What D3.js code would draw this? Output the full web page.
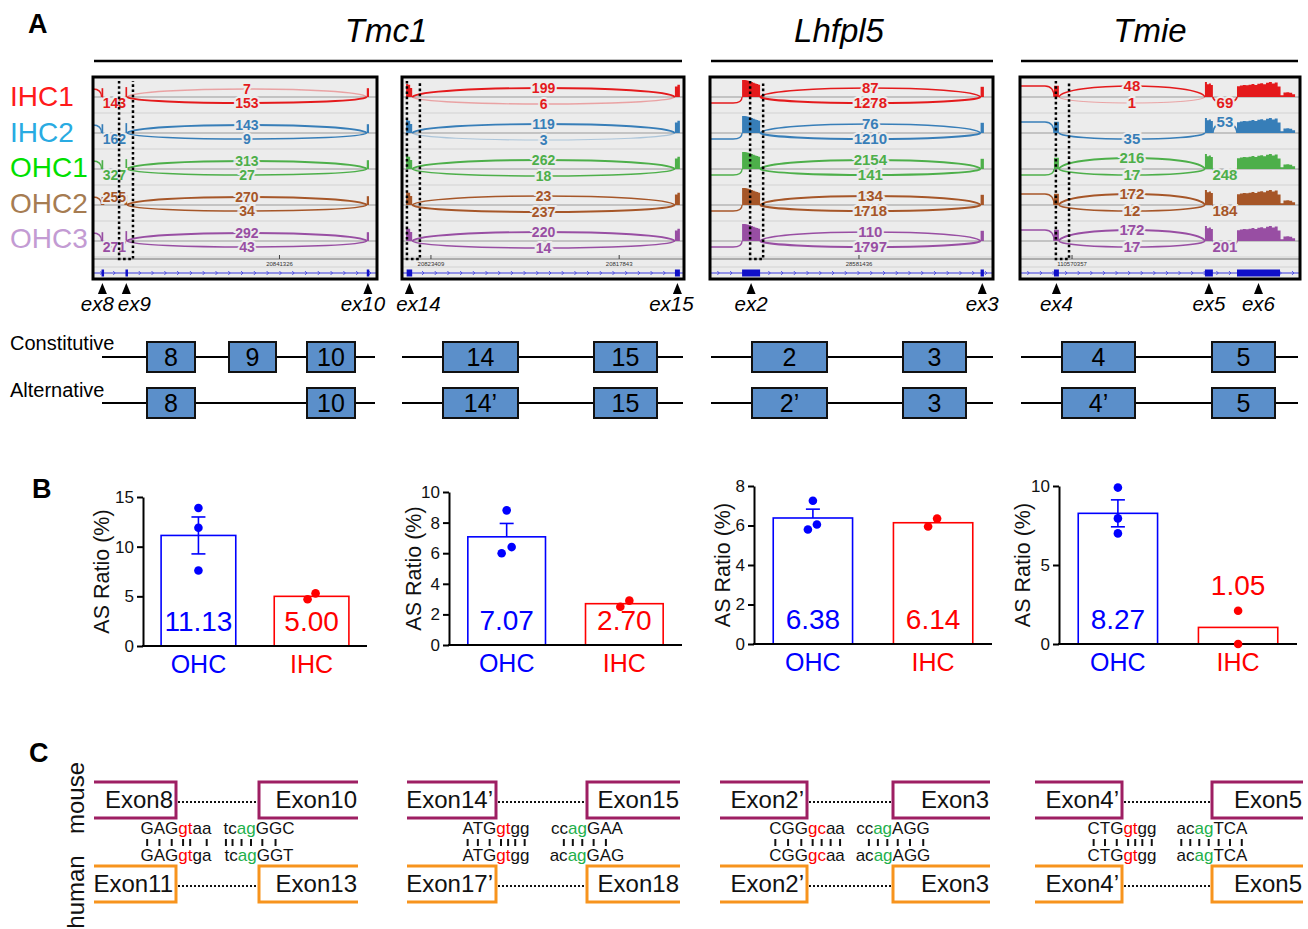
<!DOCTYPE html>
<html>
<head>
<meta charset="utf-8">
<script src="https://cdn.jsdelivr.net/npm/d3@7"></script>
<style>
  body { margin: 0; background: #fff; }
  svg { display: block; }
</style>
</head>
<body>
<svg id="fig" width="1308" height="929"></svg>
<script>
// ---------------- data: panel A (sashimi) ----------------
const samples = ["IHC1", "IHC2", "OHC1", "OHC2", "OHC3"];
const genes = ["Tmc1", "Lhfpl5", "Tmie"];

// junction read counts, one per sample
const tmc1aUpper = [7, 143, 313, 270, 292];
const tmc1aLower = [153, 9, 27, 34, 43];
const tmc1aEx8Ex9 = [143, 162, 327, 255, 271];
const tmc1aEx8Ex9Side = [1, 1, 1, -1, 1];
const tmc1bUpper = [199, 119, 262, 23, 220];
const tmc1bLower = [6, 3, 18, 237, 14];
const lhfpl5Upper = [87, 76, 2154, 134, 110];
const lhfpl5Lower = [1278, 1210, 141, 1718, 1797];
const tmieUpper = [48, null, 216, 172, 172];
const tmieLower = [1, 35, 17, 12, 17];
const tmieEx5Ex6 = [69, 53, 248, 184, 201];
const tmieEx5Ex6Side = [1, -1, 1, 1, 1];
const tmieEdgeSide = [-1, -1, 1, -1, -1];

// exons in each window: [name, start, end], window spans 0-100
const tmc1aExons = [["ex8", 2.0, 2.6], ["ex9", 10.6, 11.2], ["ex10", 97.4, 98.2]];
const tmc1bExons = [["ex14", 0.6, 2.6], ["ex15", 97.8, 99.6]];
const lhfpl5Exons = [["ex2", 10.5, 17.0], ["ex3", 96.6, 97.8]];
const tmieExons = [["ex4", 11.3, 13.1], ["ex5", 66.4, 69.3], ["ex6", 78.1, 93.8]];

// read coverage (relative depth) over exons
const tmc1aCov = [{ from: 2.0, to: 2.6, depth: [0.8] }, { from: 10.6, to: 11.2, depth: [0.9] }, { from: 97.4, to: 98.2, depth: [0.8] }];
const tmc1bCov = [{ from: 0.4, to: 2.6, depth: [1, 0.95, 0.7] }, { from: 97.8, to: 99.6, depth: [0.8, 0.95] }];
const lhfpl5Cov = [{ from: 10.5, to: 17.0, depth: [1, 1, 0.98, 0.95, 0.92, 0.88, 0.84, 0.8, 0.76, 0.72] }, { from: 96.6, to: 97.8, depth: [0.6] }];
const tmieCov = [
  { from: 11.3, to: 13.1, depth: [0.75] },
  { from: 66.4, to: 69.3, depth: [1, 0.85, 0.9, 0.8] },
  { from: 78.1, to: 99.3, depth: [0.72, 0.76, 0.8, 0.78, 0.82, 0.86, 0.8, 0.88, 0.92, 0.85, 0.95, 1.0, 0.9, 0.96, 0.7, 0.12, 0.3, 0.32, 0.28, 0.18] }
];

// genomic coordinate labels
const tmc1aCoords = [[66, "20841326"]];
const tmc1bCoords = [[9.4, "20823409"], [77.6, "20817843"]];
const lhfpl5Coords = [[52.7, "28581436"]];
const tmieCoords = [[17.9, "110570357"]];

// exon schematics
const schemeConst = [["8", "9", "10"], ["14", "15"], ["2", "3"], ["4", "5"]];
const schemeAlt = [["8", "10"], ["14\u2019", "15"], ["2\u2019", "3"], ["4\u2019", "5"]];

// ---------------- data: panel B ----------------
const bGroups = ["OHC", "IHC"];
const bOhcMean = [11.13, 7.07, 6.38, 8.27];
const bIhcMean = [5.00, 2.70, 6.14, 1.05];
const bOhcDots = [[13.9, 11.9, 7.6], [8.8, 6.4, 6.0], [7.25, 6.05, 5.8], [9.9, 7.95, 7.0]];
const bIhcDots = [[4.7, 5.3], [2.5, 2.9], [5.95, 6.35], [2.1, 0.0]];
const bYMax = [15, 10, 8, 10];
const bYStep = [5, 2, 2, 5];

// ---------------- data: panel C ----------------
const mouseExonL = ["Exon8", "Exon14\u2019", "Exon2\u2019", "Exon4\u2019"];
const mouseExonR = ["Exon10", "Exon15", "Exon3", "Exon5"];
const humanExonL = ["Exon11", "Exon17\u2019", "Exon2\u2019", "Exon4\u2019"];
const humanExonR = ["Exon13", "Exon18", "Exon3", "Exon5"];
const mouseDonor = ["GAGgtaa", "ATGgtgg", "CGGgcaa", "CTGgtgg"];
const humanDonor = ["GAGgtga", "ATGgtgg", "CGGgcaa", "CTGgtgg"];
const mouseAcceptor = ["tcagGGC", "ccagGAA", "ccagAGG", "acagTCA"];
const humanAcceptor = ["tcagGGT", "acagGAG", "acagAGG", "acagTCA"];

// ---------------- styles / layout ----------------
const FONT = "'Liberation Sans', Arial, Helvetica, sans-serif";
const labelColors = ["#ff1a1a", "#29abe2", "#00e000", "#a67c52", "#c39bd3"];
const trackColors = ["#e41a1c", "#377eb8", "#4daf4a", "#a65628", "#984ea3"];
const BG = "#ececec";
const BLUE = "#0000ff", RED = "#ff0000";

const svg = d3.select("#fig").attr("font-family", FONT);
svg.append("rect").attr("width", 1308).attr("height", 929).attr("fill", "#fff");

function letter(t, x, y) {
  svg.append("text").attr("x", x).attr("y", y).attr("font-size", 27)
    .attr("font-weight", "bold").text(t);
}
letter("A", 28, 33);
letter("B", 32, 498);
letter("C", 29, 762);

// gene titles
const geneTitleX = [386, 839, 1150];
const geneLineX = [[94, 682], [711, 993], [1021, 1298]];
genes.forEach((gname, i) => {
  svg.append("text").attr("x", geneTitleX[i]).attr("y", 42)
    .attr("text-anchor", "middle").attr("font-size", 33).attr("font-style", "italic")
    .text(gname);
  svg.append("line").attr("x1", geneLineX[i][0]).attr("x2", geneLineX[i][1])
    .attr("y1", 61).attr("y2", 61).attr("stroke", "#000").attr("stroke-width", 2.5);
});

// sample names
samples.forEach((s, i) => {
  svg.append("text").attr("x", 10).attr("y", 106 + 35.5 * i)
    .attr("font-size", 28).attr("fill", labelColors[i]).text(s);
});

// ---------------- sashimi windows ----------------
const windows = [
  { exons: tmc1aExons, cov: tmc1aCov, coords: tmc1aCoords,
    junctions: [
      { a: "L", b: 0, side: -1 },
      { a: 1, b: 2, counts: tmc1aUpper, side: -1 },
      { a: 1, b: 2, counts: tmc1aLower, side: 1 },
      { a: 0, b: 1, counts: tmc1aEx8Ex9, side: tmc1aEx8Ex9Side }
    ] },
  { exons: tmc1bExons, cov: tmc1bCov, coords: tmc1bCoords,
    junctions: [
      { a: 0, b: 1, counts: tmc1bUpper, side: -1 },
      { a: 0, b: 1, counts: tmc1bLower, side: 1 }
    ] },
  { exons: lhfpl5Exons, cov: lhfpl5Cov, coords: lhfpl5Coords,
    junctions: [
      { a: "L", b: 0, side: 1 },
      { a: 0, b: 1, counts: lhfpl5Upper, side: -1 },
      { a: 0, b: 1, counts: lhfpl5Lower, side: 1 }
    ] },
  { exons: tmieExons, cov: tmieCov, coords: tmieCoords,
    junctions: [
      { a: "L", b: 0, side: tmieEdgeSide },
      { a: 0, b: 1, counts: tmieUpper, side: -1 },
      { a: 0, b: 1, counts: tmieLower, side: 1 },
      { a: 1, b: 2, counts: tmieEx5Ex6, side: tmieEx5Ex6Side }
    ] }
];

const winBox = [[93, 377], [402, 684], [710, 993], [1020, 1300]];
const winHighlight = [[8.3, 13.3], [0.7, 5.4], [13.4, 18.1], [12.0, 16.8]];
const winArrowDx = [[-5, 8, -5], [9, -6], [0, 0], [0, 0, 0]];
const winFont = [14, 14, 15, 15];
const winUp = [8, 9, 9, 11];
const winDown = [6, 7, 6, 6];
const winCovH = [11, 13, 17, 15];
const boxTop = 77, boxBottom = 279;
const trackBase = i => 97 + 36 * i;
const widthScale = d3.scaleLog().domain([1, 2000]).range([1, 2.2]).clamp(true);

windows.forEach((w, wi) => {
  const [bx0, bx1] = winBox[wi];
  const x = d3.scaleLinear().domain([0, 100]).range([bx0 + 3, bx1 - 3]);
  const g = svg.append("g");
  const clipId = "clip" + wi;
  g.append("clipPath").attr("id", clipId).append("rect")
    .attr("x", bx0).attr("y", boxTop).attr("width", bx1 - bx0).attr("height", boxBottom - boxTop);

  g.append("rect").attr("x", bx0).attr("y", boxTop).attr("width", bx1 - bx0)
    .attr("height", boxBottom - boxTop).attr("fill", BG);

  const inner = g.append("g").attr("clip-path", `url(#${clipId})`);

  // track guide lines
  samples.forEach((s, i) => {
    const yb = trackBase(i);
    inner.append("line").attr("x1", bx0).attr("x2", bx1).attr("y1", yb).attr("y2", yb)
      .attr("stroke", "#9a9a9a").attr("stroke-width", 1);
    inner.append("line").attr("x1", bx0).attr("x2", bx1).attr("y1", yb + 16).attr("y2", yb + 16)
      .attr("stroke", "#d2d2d2").attr("stroke-width", 1);
  });
  inner.append("line").attr("x1", bx0).attr("x2", bx1).attr("y1", 259).attr("y2", 259)
    .attr("stroke", "#6e6e6e").attr("stroke-width", 1.2);
  inner.append("line").attr("x1", bx0).attr("x2", bx1).attr("y1", 267).attr("y2", 267)
    .attr("stroke", "#d2d2d2").attr("stroke-width", 1);

  // coordinates
  w.coords.forEach(c => {
    inner.append("line").attr("x1", x(c[0])).attr("x2", x(c[0])).attr("y1", 255).attr("y2", 259)
      .attr("stroke", "#444");
    inner.append("text").attr("x", x(c[0])).attr("y", 265.5).attr("text-anchor", "middle")
      .attr("font-size", 6).attr("fill", "#333").text(c[1]);
  });

  // gene model
  inner.append("line").attr("x1", bx0).attr("x2", bx1).attr("y1", 273).attr("y2", 273)
    .attr("stroke", "#3a3ae0").attr("stroke-width", 1);
  d3.range(2, 100, 4.6).forEach(p => {
    inner.append("path").attr("d", `M${x(p) - 1.2},${271} L${x(p) + 0.8},${273} L${x(p) - 1.2},${275}`)
      .attr("fill", "none").attr("stroke", "#3a3ae0").attr("stroke-width", 0.8);
  });
  w.exons.forEach(e => {
    inner.append("rect").attr("x", x(e[1])).attr("y", 269.5)
      .attr("width", Math.max(2.5, x(e[2]) - x(e[1]))).attr("height", 7).attr("fill", "#1010c8");
  });

  const fontSize = winFont[wi];
  samples.forEach((s, i) => {
    const yb = trackBase(i);
    const col = trackColors[i];

    // coverage
    w.cov.forEach(c => {
      const n = c.depth.length;
      const pts = c.depth.map((d, k) => [c.from + (c.to - c.from) * k / n, d]).concat([[c.to, c.depth[n - 1]]]);
      const area = d3.area().x(p => x(p[0])).y0(yb).y1(p => yb - p[1] * winCovH[wi]).curve(d3.curveStepAfter);
      inner.append("path").attr("d", area(pts)).attr("fill", col);
    });

    // junction arcs
    w.junctions.forEach(j => {
      const side = Array.isArray(j.side) ? j.side[i] : j.side;
      const h = side < 0 ? -winUp[wi] : winDown[wi];
      if (j.a === "L") {
        const xe = x(w.exons[j.b][1]);
        inner.append("path")
          .attr("d", `M${bx0},${yb + h} H${xe - 9} Q${xe},${yb + h} ${xe},${yb}`)
          .attr("fill", "none").attr("stroke", col).attr("stroke-width", 1.3);
        return;
      }
      const cnt = j.counts[i];
      if (cnt == null) return;
      const xa = x(w.exons[j.a][2]), xb = x(w.exons[j.b][1]);
      const span = xb - xa, k = h * 4 / 3;
      inner.append("path")
        .attr("d", `M${xa},${yb} C${xa + span * 0.04},${yb + k} ${xb - span * 0.04},${yb + k} ${xb},${yb}`)
        .attr("fill", "none").attr("stroke", col)
        .attr("stroke-opacity", cnt < 9 ? 0.35 : 1)
        .attr("stroke-width", widthScale(cnt));
      inner.append("text").attr("x", (xa + xb) / 2).attr("y", yb + h)
        .attr("dy", "0.36em").attr("text-anchor", "middle")
        .attr("font-size", fontSize).attr("font-weight", "bold").attr("fill", col)
        .attr("stroke", BG).attr("stroke-width", 4).attr("paint-order", "stroke")
        .text(cnt);
    });
  });

  // highlighted alternative region
  const [h0, h1] = winHighlight[wi];
  g.append("path").attr("d", `M${x(h0)},81 V259 H${x(h1)} V81`)
    .attr("fill", "none").attr("stroke", "#000").attr("stroke-width", 2.5)
    .attr("stroke-dasharray", "2.6,2.6");

  // frame
  g.append("rect").attr("x", bx0).attr("y", boxTop).attr("width", bx1 - bx0)
    .attr("height", boxBottom - boxTop).attr("fill", "none")
    .attr("stroke", "#000").attr("stroke-width", 3);

  // exon arrows
  w.exons.forEach((e, k) => {
    const cx = x((e[1] + e[2]) / 2);
    g.append("path").attr("d", `M${cx},283 L${cx + 4.5},294 L${cx - 4.5},294 Z`).attr("fill", "#000");
    g.append("text").attr("x", cx + winArrowDx[wi][k]).attr("y", 311)
      .attr("text-anchor", "middle").attr("font-size", 20.5).attr("font-style", "italic")
      .text(e[0]);
  });
});

// ---------------- exon schematics ----------------
const schemeLineX = [[102, 375], [402, 683], [711, 993], [1021, 1298]];
const schemeConstX = [[[147, 195], [229, 276], [307, 355]], [[443, 518], [594, 657]], [[752, 827], [903, 966]], [[1062, 1135], [1212, 1275]]];
const schemeAltX = [[[147, 195], [307, 355]], [[443, 518], [594, 657]], [[752, 827], [903, 966]], [[1062, 1135], [1212, 1275]]];
svg.append("text").attr("x", 10).attr("y", 350).attr("font-size", 20).text("Constitutive");
svg.append("text").attr("x", 10).attr("y", 397).attr("font-size", 20).text("Alternative");

function schemeRow(labels, xs, yc) {
  labels.forEach((lab, p) => {
    const [l0, l1] = schemeLineX[p];
    svg.append("line").attr("x1", l0).attr("x2", l1).attr("y1", yc).attr("y2", yc)
      .attr("stroke", "#000").attr("stroke-width", 2);
    lab.forEach((t, k) => {
      const [e0, e1] = xs[p][k];
      svg.append("rect").attr("x", e0).attr("y", yc - 15).attr("width", e1 - e0).attr("height", 30)
        .attr("fill", "#5b8fca").attr("stroke", "#111").attr("stroke-width", 2);
      svg.append("text").attr("x", (e0 + e1) / 2).attr("y", yc + 9).attr("text-anchor", "middle")
        .attr("font-size", 25).attr("fill", "#000").text(t);
    });
  });
}
schemeRow(schemeConst, schemeConstX, 357);
schemeRow(schemeAlt, schemeAltX, 403);

// ---------------- panel B bar charts ----------------
const bAxisX = [143, 449, 754, 1059];
const bAxisEnd = [367, 682, 992, 1297];
const bTop = [497, 492, 486, 486];
const bBottom = [646, 645, 644, 644];
const bLabelOff = [42, 36, 32, 37];
const bOhcJitter = [[0, 0, 0], [0, 5, -5], [0, 4, -5], [0, 0, 0]];
const bIhcJitter = [[-4, 4], [-4, 5], [-5, 4], [0, 0]];
const bErrDown = [true, false, false, true];

bOhcMean.forEach((_, c) => {
  const g = svg.append("g");
  const y = d3.scaleLinear().domain([0, bYMax[c]]).range([bBottom[c], bTop[c]]);
  const x = d3.scaleBand().domain(bGroups).range([bAxisX[c], bAxisEnd[c]])
    .paddingInner(0.34).paddingOuter(0.16);
  const groups = [
    { name: "OHC", mean: bOhcMean[c], dots: bOhcDots[c], jit: bOhcJitter[c], color: BLUE },
    { name: "IHC", mean: bIhcMean[c], dots: bIhcDots[c], jit: bIhcJitter[c], color: RED }
  ];

  g.selectAll("rect.bar").data(groups).enter().append("rect").attr("class", "bar")
    .attr("x", d => x(d.name)).attr("y", d => y(d.mean))
    .attr("width", x.bandwidth()).attr("height", d => y(0) - y(d.mean))
    .attr("fill", "#fff").attr("stroke", d => d.color).attr("stroke-width", 1.6);

  const yAxis = d3.axisLeft(y).tickValues(d3.range(0, bYMax[c] + 0.001, bYStep[c]))
    .tickSize(6).tickSizeOuter(0).tickPadding(3);
  const ag = g.append("g").attr("transform", `translate(${bAxisX[c]},0)`).call(yAxis);
  ag.select(".domain").attr("stroke-width", 2);
  ag.selectAll(".tick line").attr("stroke-width", 2);
  ag.selectAll(".tick text").attr("font-size", 17).attr("font-family", FONT).attr("fill", "#111");
  g.append("line").attr("x1", bAxisX[c] - 1).attr("x2", bAxisEnd[c]).attr("y1", y(0)).attr("y2", y(0))
    .attr("stroke", "#000").attr("stroke-width", 2);

  groups.forEach(d => {
    const cx = x(d.name) + x.bandwidth() / 2;
    if (d.dots.length >= 3) {
      const sem = d3.deviation(d.dots) / Math.sqrt(d.dots.length);
      const lo = bErrDown[c] ? d.mean - sem : d.mean;
      g.append("line").attr("x1", cx).attr("x2", cx).attr("y1", y(lo)).attr("y2", y(d.mean + sem))
        .attr("stroke", d.color).attr("stroke-width", 1.6);
      g.append("line").attr("x1", cx - 7).attr("x2", cx + 7).attr("y1", y(d.mean + sem)).attr("y2", y(d.mean + sem))
        .attr("stroke", d.color).attr("stroke-width", 1.6);
      if (bErrDown[c]) {
        g.append("line").attr("x1", cx - 7).attr("x2", cx + 7).attr("y1", y(lo)).attr("y2", y(lo))
          .attr("stroke", d.color).attr("stroke-width", 1.6);
      }
    }
    d.dots.forEach((v, k) => {
      g.append("circle").attr("cx", cx + d.jit[k]).attr("cy", y(v)).attr("r", 4.3).attr("fill", d.color);
    });
    const inside = y(0) - y(d.mean) > 30;
    g.append("text").attr("x", cx).attr("y", inside ? y(0) - 15 : y(d3.max(d.dots)) - 16)
      .attr("text-anchor", "middle").attr("font-size", 28).attr("fill", d.color)
      .text(d.mean.toFixed(2));
    g.append("text").attr("x", cx).attr("y", y(0) + 27).attr("text-anchor", "middle")
      .attr("font-size", 25).attr("fill", d.color).text(d.name);
  });

  const ly = (bTop[c] + bBottom[c]) / 2;
  g.append("text").attr("transform", `translate(${bAxisX[c] - bLabelOff[c]},${ly}) rotate(-90)`)
    .attr("text-anchor", "middle").attr("dy", "0.35em").attr("font-size", 21.5).attr("fill", "#111")
    .text("AS Ratio (%)");
});

// ---------------- panel C splice sites ----------------
const cLeftBox = [[94, 176], [407, 496], [720, 807], [1035, 1122]];
const cRightBox = [[259, 358], [587, 680], [893, 990], [1212, 1303]];
const MOUSE = "#9e1f63", HUMAN = "#f7941d", GREEN = "#22b04b";

svg.append("text").attr("transform", "translate(84,798) rotate(-90)").attr("text-anchor", "middle")
  .attr("font-size", 24).attr("fill", "#111").text("mouse");
svg.append("text").attr("transform", "translate(84,892) rotate(-90)").attr("text-anchor", "middle")
  .attr("font-size", 24).attr("fill", "#111").text("human");

function exonPair(p, yTop, color, leftName, rightName) {
  const [l0, l1] = cLeftBox[p], [r0, r1] = cRightBox[p];
  const yBot = yTop + 36, ym = yTop + 18;
  svg.append("path").attr("d", `M${l0},${yTop} H${l1} V${yBot} H${l0}`)
    .attr("fill", "none").attr("stroke", color).attr("stroke-width", 3);
  svg.append("path").attr("d", `M${r1},${yTop} H${r0} V${yBot} H${r1}`)
    .attr("fill", "none").attr("stroke", color).attr("stroke-width", 3);
  svg.append("line").attr("x1", l1 + 2).attr("x2", r0 - 2).attr("y1", ym + 2).attr("y2", ym + 2)
    .attr("stroke", "#111").attr("stroke-width", 2).attr("stroke-dasharray", "2,2");
  svg.append("text").attr("x", l1 - 3).attr("y", ym + 8).attr("text-anchor", "end")
    .attr("font-size", 24).attr("fill", "#111").text(leftName);
  svg.append("text").attr("x", r1 - 1).attr("y", ym + 8).attr("text-anchor", "end")
    .attr("font-size", 24).attr("fill", "#111").text(rightName);
}

function seq(xc, yb, s, hi, color) {
  const t = svg.append("text").attr("x", xc).attr("y", yb).attr("text-anchor", "middle")
    .attr("font-size", 17).attr("fill", "#111");
  t.append("tspan").text(s.slice(0, hi));
  t.append("tspan").attr("fill", color).text(s.slice(hi, hi + 2));
  t.append("tspan").text(s.slice(hi + 2));
  return t;
}

function matchTicks(tNode, a, b) {
  for (let i = 0; i < a.length; i++) {
    if (a[i].toLowerCase() !== b[i].toLowerCase()) continue;
    const ext = tNode.getExtentOfChar(i);
    const cx = ext.x + ext.width / 2;
    svg.append("line").attr("x1", cx).attr("x2", cx).attr("y1", 839).attr("y2", 846)
      .attr("stroke", "#111").attr("stroke-width", 2);
  }
}

mouseExonL.forEach((_, p) => {
  exonPair(p, 782, MOUSE, mouseExonL[p], mouseExonR[p]);
  exonPair(p, 866, HUMAN, humanExonL[p], humanExonR[p]);
  const dx = cLeftBox[p][1], ax = cRightBox[p][0];
  const mDon = seq(dx, 834, mouseDonor[p], 3, RED);
  seq(dx, 861, humanDonor[p], 3, RED);
  const mAcc = seq(ax, 834, mouseAcceptor[p], 2, GREEN);
  seq(ax, 861, humanAcceptor[p], 2, GREEN);
  matchTicks(mDon.node(), mouseDonor[p], humanDonor[p]);
  matchTicks(mAcc.node(), mouseAcceptor[p], humanAcceptor[p]);
});
</script>
</body>
</html>
